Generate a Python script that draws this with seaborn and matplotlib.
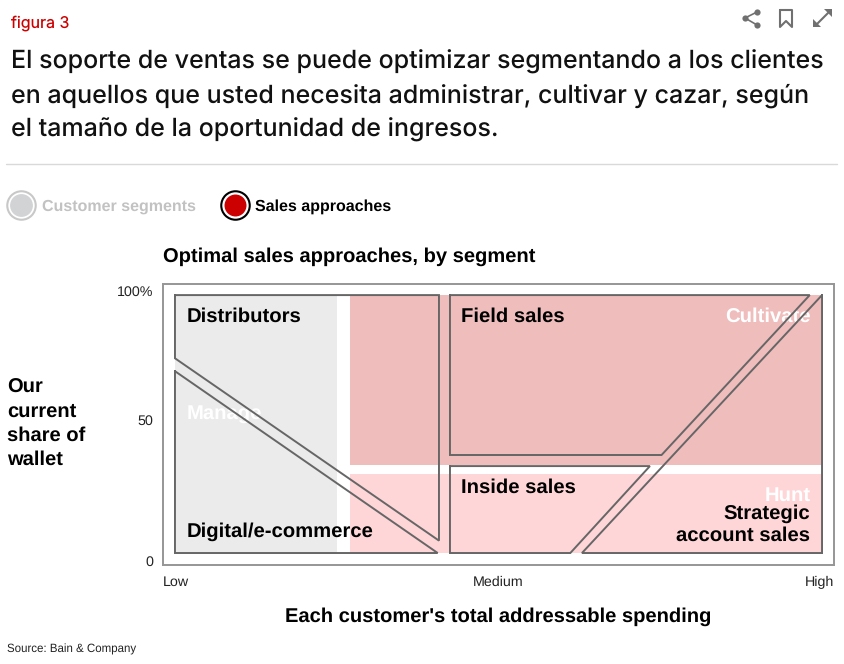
import matplotlib
matplotlib.use('Agg')
import matplotlib.pyplot as plt
import pandas as pd
import seaborn as sns

# Chart values: spending (x) and share of wallet (y), both on a 0-100 scale
y_tick_values = [-3, 51.6, 101.6]
y_tick_labels = ['0', '50', '100%']
x_tick_values = [-1.85, 50.0, 101.85]
x_tick_labels = ['Low', 'Medium', 'High']

manage_x = [0, 25]
manage_y = [0, 100]
cultivate_x = [27, 100]
cultivate_y = [34, 100]
hunt_x = [27, 100]
hunt_y = [0, 30.5]

distributors_x = [0, 40.8, 40.8, 0, 0]
distributors_y = [100, 100, 4.8, 75.5, 100]
digital_x = [0, 40.6, 0, 0]
digital_y = [70.5, 0, 0, 70.5]
field_x = [42.5, 98.1, 75.2, 42.5, 42.5]
field_y = [100, 100, 38, 38, 100]
inside_x = [42.5, 73.4, 61.1, 42.5, 42.5]
inside_y = [33.7, 33.7, 0, 0, 33.7]
strategic_x = [100, 100, 62.9, 100]
strategic_y = [100, 0, 0, 100]

segments = {
    'distributors': (distributors_x, distributors_y),
    'digital': (digital_x, digital_y),
    'field': (field_x, field_y),
    'inside': (inside_x, inside_y),
    'strategic': (strategic_x, strategic_y),
}
rows = []
for name, (xs, ys) in segments.items():
    for i in range(len(xs)):
        rows.append({'segment': name, 'order': i, 'x': xs[i], 'y': ys[i]})
outlines = pd.DataFrame(rows)

sns.set_theme(style='white')
plt.rcParams['font.family'] = ['Liberation Sans', 'DejaVu Sans']
plt.rcParams['text.hinting'] = 'no_hinting'

fig = plt.figure(figsize=(8.45, 6.64), dpi=100)
W, H = 845, 664

# page layer in pixel coordinates for header, legend and icons
page = fig.add_axes([0, 0, 1, 1])
page.set_xlim(0, W)
page.set_ylim(H, 0)
page.axis('off')

# chart frame: px 163-834 across, 284-565 down
ax = fig.add_axes([163 / W, 1 - 565 / H, 671 / W, 281 / H])
ax.patch.set_alpha(0)
ax.set_xlim(-1.85, 101.85)
ax.set_ylim(-4.65, 104.3)

ax.fill_between(manage_x, manage_y[0], manage_y[1], color='#ebebeb', lw=0, zorder=1)
ax.fill_between(cultivate_x, cultivate_y[0], cultivate_y[1], color='#f0bdbd', lw=0, zorder=1)
ax.fill_between(hunt_x, hunt_y[0], hunt_y[1], color='#ffd6d8', lw=0, zorder=1)

ax.text(1.85, 53.5, 'Manage', color='white', fontsize=14.6, fontweight='bold', va='center', zorder=2)
ax.text(98.2, 91.7, 'Cultivate', color='white', fontsize=14.6, fontweight='bold', ha='right', va='center', zorder=2)
ax.text(98.2, 22.2, 'Hunt', color='white', fontsize=14.6, fontweight='bold', ha='right', va='center', zorder=2)

sns.lineplot(data=outlines, x='x', y='y', units='segment', estimator=None, sort=False,
             color='#666666', linewidth=1.4, solid_joinstyle='miter', ax=ax, zorder=3)

label_kw = dict(color='black', fontsize=14.6, fontweight='bold', va='center', zorder=4)
ax.text(1.85, 91.7, 'Distributors', **label_kw)
ax.text(1.85, 8.1, 'Digital/e-commerce', **label_kw)
ax.text(44.25, 91.7, 'Field sales', **label_kw)
ax.text(44.25, 25.4, 'Inside sales', **label_kw)
ax.text(98.2, 15.3, 'Strategic', ha='right', **label_kw)
ax.text(98.2, 6.7, 'account sales', ha='right', **label_kw)

ax.set_xlabel('')
ax.set_ylabel('')
ax.set_xticks(x_tick_values)
ax.set_xticklabels(x_tick_labels, fontsize=10.3, color='#222222')
ax.get_xticklabels()[0].set_ha('left')
ax.get_xticklabels()[2].set_ha('right')
ax.set_yticks(y_tick_values)
ax.set_yticklabels(y_tick_labels, fontsize=10.3, color='#222222')
ax.tick_params(length=0, axis='x', pad=8)
ax.tick_params(length=0, axis='y', pad=7)
for spine in ax.spines.values():
    spine.set_visible(True)
    spine.set_color('#969696')
    spine.set_linewidth(1.4)

# header
page.text(11, 23, 'figura 3', color='#cc0000', fontsize=11.5, family='Inter', va='center')
title_lines = ['El soporte de ventas se puede optimizar segmentando a los clientes',
               'en aquellos que usted necesita administrar, cultivar y cazar, según',
               'el tamaño de la oportunidad de ingresos.']
for y, line in zip([62, 96, 130], title_lines):
    page.text(11, y, line, color='#111111', fontsize=18.02, family='Inter', fontweight='medium', va='center')
page.plot([6, 837], [164, 164], color='#d9d9d9', lw=1)

# share, bookmark and expand icons
icon = '#707070'
page.plot([757, 745, 757], [12, 18, 25], color=icon, lw=1.2)
page.scatter([757, 745, 757], [12, 18, 25], s=20, color=icon, lw=0)
page.plot([780, 780, 786, 792, 792, 780], [10, 27, 21, 27, 10, 10], color=icon, lw=1.5)
page.plot([817, 828], [24, 13], color=icon, lw=1.5)
page.fill([824, 832, 832], [9, 9, 17], color=icon, lw=0)
page.fill([813, 813, 821], [19, 27, 27], color=icon, lw=0)

# legend buttons
page.scatter([21.5], [205], s=420, color='white', edgecolor='#c8c8c8', lw=1.5)
page.scatter([21.5], [205], s=270, color='#d2d3d5', lw=0)
page.text(42, 207, 'Customer segments', color='#c2c2c2', fontsize=11.5, fontweight='bold', va='center')
page.scatter([234.8], [205], s=420, color='white', edgecolor='black', lw=1.5)
page.scatter([234.8], [205], s=250, color='#cc0000', lw=0)
page.text(255, 207, 'Sales approaches', color='black', fontsize=11.5, fontweight='bold', va='center')

# chart and axis titles
page.text(163, 256.5, 'Optimal sales approaches, by segment', color='black', fontsize=14.5, fontweight='bold', va='center')
page.text(498, 617, "Each customer's total addressable spending", color='black', fontsize=14.5, fontweight='bold', ha='center', va='center')
for y, word in zip([388, 412, 436, 460], ['Our', 'current', 'share of', 'wallet']):
    page.text(7, y, word, color='black', fontsize=14.5, fontweight='bold', va='center')
page.text(7, 649, 'Source: Bain & Company', color='#222222', fontsize=8.3, va='center')

fig.savefig('out.png', dpi=100)
